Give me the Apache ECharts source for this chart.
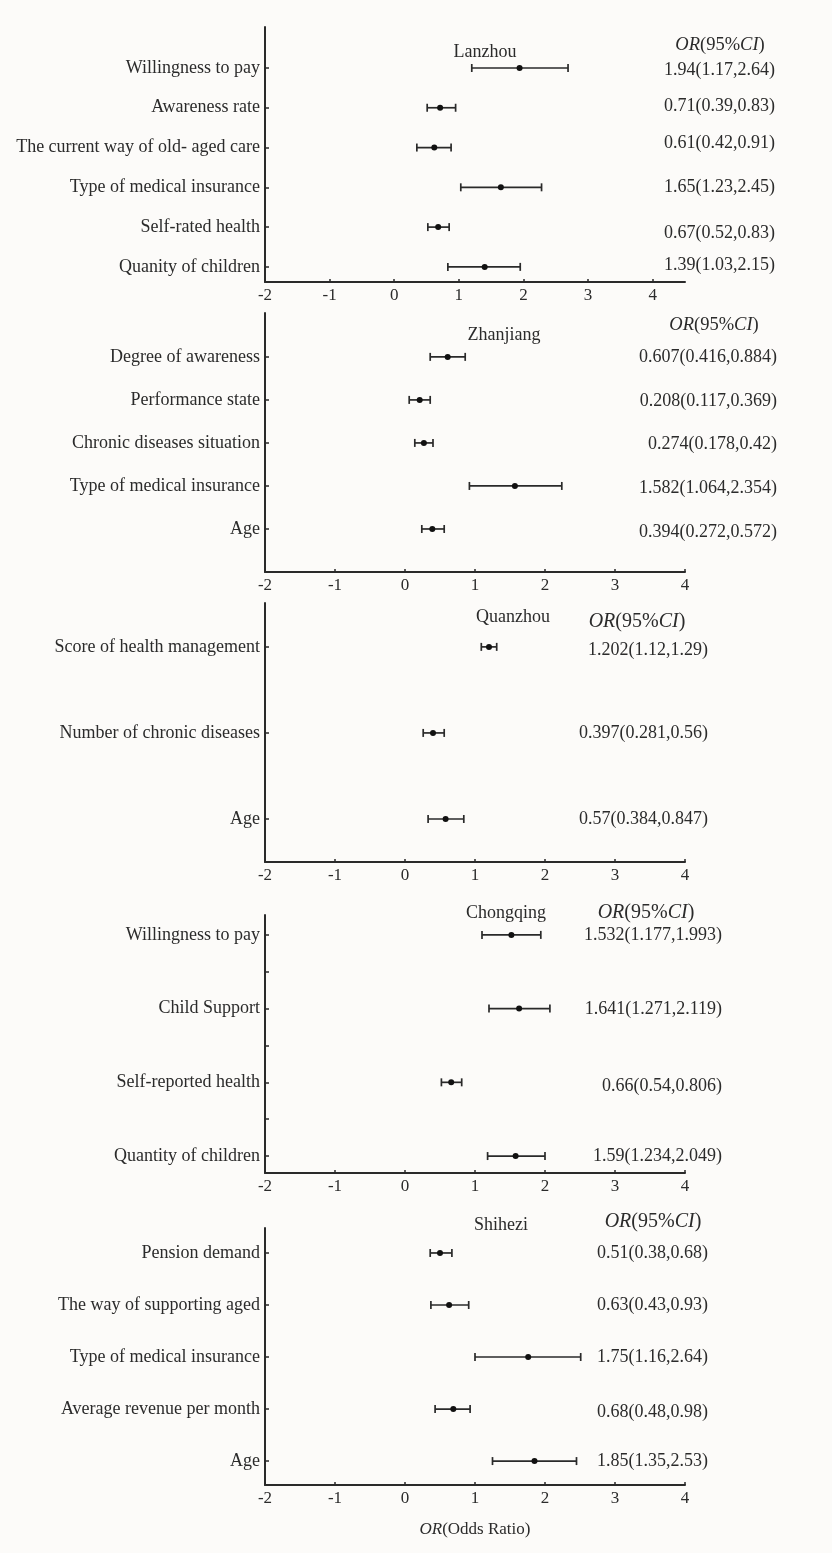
<!DOCTYPE html>
<html><head><meta charset="utf-8">
<script src="https://cdn.jsdelivr.net/npm/echarts@6/dist/echarts.min.js"></script>
<style>html,body{margin:0;padding:0;background:#fcfbf9}#c{width:832px;height:1553px}</style>
</head><body><div id="c"></div><script>
// ---------- data ----------
const xTicks = [-2, -1, 0, 1, 2, 3, 4];
const cities = ['Lanzhou', 'Zhanjiang', 'Quanzhou', 'Chongqing', 'Shihezi'];

const lzCats = ['Willingness to pay', 'Awareness rate', 'The current way of old- aged care', 'Type of medical insurance', 'Self-rated health', 'Quanity of children'];
const lzOR   = [1.94, 0.71, 0.62, 1.65, 0.68, 1.40];
const lzLo   = [1.20, 0.51, 0.35, 1.03, 0.52, 0.83];
const lzHi   = [2.69, 0.95, 0.88, 2.28, 0.85, 1.95];
const lzText = ['1.94(1.17,2.64)', '0.71(0.39,0.83)', '0.61(0.42,0.91)', '1.65(1.23,2.45)', '0.67(0.52,0.83)', '1.39(1.03,2.15)'];

const zjCats = ['Degree of awareness', 'Performance state', 'Chronic diseases situation', 'Type of medical insurance', 'Age'];
const zjOR   = [0.61, 0.21, 0.27, 1.57, 0.39];
const zjLo   = [0.36, 0.06, 0.14, 0.92, 0.24];
const zjHi   = [0.86, 0.36, 0.40, 2.24, 0.56];
const zjText = ['0.607(0.416,0.884)', '0.208(0.117,0.369)', '0.274(0.178,0.42)', '1.582(1.064,2.354)', '0.394(0.272,0.572)'];

const qzCats = ['Score of health management', 'Number of chronic diseases', 'Age'];
const qzOR   = [1.20, 0.40, 0.58];
const qzLo   = [1.09, 0.26, 0.33];
const qzHi   = [1.31, 0.56, 0.84];
const qzText = ['1.202(1.12,1.29)', '0.397(0.281,0.56)', '0.57(0.384,0.847)'];

const cqCats = ['Willingness to pay', 'Child Support', 'Self-reported health', 'Quantity of children'];
const cqOR   = [1.52, 1.63, 0.66, 1.58];
const cqLo   = [1.10, 1.20, 0.52, 1.18];
const cqHi   = [1.94, 2.07, 0.81, 2.00];
const cqText = ['1.532(1.177,1.993)', '1.641(1.271,2.119)', '0.66(0.54,0.806)', '1.59(1.234,2.049)'];

const shCats = ['Pension demand', 'The way of supporting aged', 'Type of medical insurance', 'Average revenue per month', 'Age'];
const shOR   = [0.50, 0.63, 1.76, 0.69, 1.85];
const shLo   = [0.36, 0.37, 1.00, 0.43, 1.25];
const shHi   = [0.67, 0.91, 2.51, 0.93, 2.45];
const shText = ['0.51(0.38,0.68)', '0.63(0.43,0.93)', '1.75(1.16,2.64)', '0.68(0.48,0.98)', '1.85(1.35,2.53)'];

const panelCats = [lzCats, zjCats, qzCats, cqCats, shCats];
const panelOR   = [lzOR, zjOR, qzOR, cqOR, shOR];
const panelLo   = [lzLo, zjLo, qzLo, cqLo, shLo];
const panelHi   = [lzHi, zjHi, qzHi, cqHi, shHi];
const panelText = [lzText, zjText, qzText, cqText, shText];

// ---------- layout (pixels / axis extents) ----------
const layout = [
  {top: 27,   bottom: 282,  xMax: 4.5, yMin: -1.03, yMax: 5.38, title: [485, 52],   hdr: [720, 45],   hdrSize: 18.5, valRight: 775, rowPx: 39.8, valShift: [2, -1, -4, 0, 6, -2], halfTicks: false},
  {top: 313,  bottom: 572,  xMax: 4,   yMin: -1.02, yMax: 5.0,  title: [504, 335],  hdr: [714, 325],  hdrSize: 18.5, valRight: 777, rowPx: 43,   valShift: [0, 1, 1, 2, 3], halfTicks: false},
  {top: 603,  bottom: 862,  xMax: 4,   yMin: -0.51, yMax: 2.5,  title: [513, 617],  hdr: [637, 622],  hdrSize: 20,   valRight: 708, rowPx: 86,   valShift: [3, 0, 0], halfTicks: false},
  {top: 915,  bottom: 1173, xMax: 4,   yMin: -0.27, yMax: 3.23, title: [506, 913],  hdr: [646, 913],  hdrSize: 20,   valRight: 722, rowPx: 73.7, valShift: [0, 1, 4, 0], halfTicks: true},
  {top: 1228, bottom: 1485, xMax: 4,   yMin: -0.48, yMax: 4.46, title: [501, 1225], hdr: [653, 1222], hdrSize: 20,   valRight: 708, rowPx: 52,   valShift: [0, 0, 0, 3, 0], halfTicks: false}
];
const GRID_LEFT = 265, GRID_RIGHT_PX = 685;
const FONT = '"Liberation Serif", "Times New Roman", serif';
const TXT = '#2b2b2b', LINE = '#2a2a2a';

// ---------- build option ----------
const grids = [], xAxes = [], yAxes = [], series = [], graphics = [];

function renderBar(params, api) {
  const y = api.value(3);
  const a = api.coord([api.value(0), y]);
  const b = api.coord([api.value(1), y]);
  const m = api.coord([api.value(2), y]);
  const cap = 4;
  const st = {stroke: LINE, lineWidth: 1.7};
  return {type: 'group', children: [
    {type: 'line', shape: {x1: a[0], y1: a[1], x2: b[0], y2: b[1]}, style: st},
    {type: 'line', shape: {x1: a[0], y1: a[1] - cap, x2: a[0], y2: a[1] + cap}, style: st},
    {type: 'line', shape: {x1: b[0], y1: b[1] - cap, x2: b[0], y2: b[1] + cap}, style: st},
    {type: 'circle', shape: {cx: m[0], cy: m[1], r: 3}, style: {fill: '#111'}}
  ]};
}

layout.forEach((L, p) => {
  const cats = panelCats[p], texts = panelText[p];
  const idx = cats.map((_, i) => i);
  grids.push({left: GRID_LEFT, top: L.top, width: GRID_RIGHT_PX - GRID_LEFT, height: L.bottom - L.top});
  const last = p === layout.length - 1;
  xAxes.push({
    type: 'value', gridIndex: p, min: -2, max: L.xMax,
    splitLine: {show: false},
    axisLine: {show: true, onZero: false, lineStyle: {color: LINE, width: 2}},
    axisTick: {show: true, inside: true, length: 3, customValues: xTicks, lineStyle: {color: LINE, width: 1.5}},
    axisLabel: {customValues: xTicks, margin: 5, color: TXT, fontFamily: FONT, fontSize: 17},
    name: last ? '{i|OR}(Odds Ratio)' : '',
    nameLocation: 'middle', nameGap: 36,
    nameTextStyle: {color: TXT, fontFamily: FONT, fontSize: 17, rich: {i: {fontStyle: 'italic', fontFamily: FONT, fontSize: 17, color: TXT}}}
  });
  const tickVals = L.halfTicks ? idx.flatMap(i => i < idx.length - 1 ? [i, i + 0.5] : [i]) : idx;
  yAxes.push({
    type: 'value', gridIndex: p, inverse: true, min: L.yMin, max: L.yMax,
    splitLine: {show: false},
    axisLine: {show: true, onZero: false, lineStyle: {color: LINE, width: 2}},
    axisTick: {show: true, inside: true, length: 4, customValues: tickVals, lineStyle: {color: LINE, width: 1.5}},
    axisLabel: {customValues: idx, margin: 5, color: TXT, fontFamily: FONT, fontSize: 18,
      formatter: v => cats[Math.round(v)] || ''}
  });
  yAxes.push({
    type: 'value', gridIndex: p, position: 'right', inverse: true, min: L.yMin, max: L.yMax,
    splitLine: {show: false}, axisLine: {show: false}, axisTick: {show: false},
    axisLabel: {customValues: idx.map(i => i + L.valShift[i] / L.rowPx), align: 'right',
      margin: L.valRight - GRID_RIGHT_PX, color: TXT, fontFamily: FONT, fontSize: 18,
      formatter: v => texts[Math.round(v)] || ''}
  });
  series.push({
    type: 'custom', xAxisIndex: p, yAxisIndex: p * 2, clip: false,
    renderItem: renderBar,
    data: idx.map(i => [panelLo[p][i], panelHi[p][i], panelOR[p][i], i])
  });
  graphics.push({type: 'text', x: L.title[0], y: L.title[1],
    style: {text: cities[p], fill: TXT, font: '18px ' + FONT, align: 'center', verticalAlign: 'middle'}});
  graphics.push({type: 'text', x: L.hdr[0], y: L.hdr[1],
    style: {text: '{i|OR}(95%{i|CI})', fill: TXT, font: L.hdrSize + 'px ' + FONT, align: 'center', verticalAlign: 'middle',
      rich: {i: {fontStyle: 'italic', fontFamily: FONT, fontSize: L.hdrSize, fill: TXT}}}});
});

const chart = echarts.init(document.getElementById('c'), null, {renderer: 'canvas'});
chart.setOption({
  backgroundColor: '#fcfbf9',
  animation: false,
  grid: grids, xAxis: xAxes, yAxis: yAxes, series: series, graphic: graphics
});
</script></body></html>
